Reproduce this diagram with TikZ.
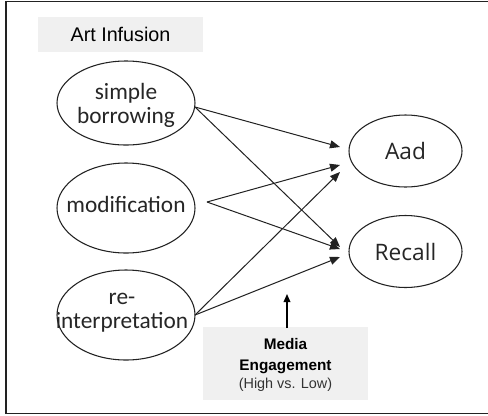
\documentclass[tikz,border=0pt]{standalone}
\usepackage{fontspec}
\setmainfont{Carlito}
\newfontfamily\arialf{Liberation Sans}
\newfontfamily\openf{Open Sans}
\usetikzlibrary{shapes.geometric,arrows.meta}
\definecolor{boxgrey}{HTML}{F0F0F0}
\definecolor{linec}{HTML}{222222}
\tikzset{
  oval/.style={ellipse, draw=linec, line width=0.8pt, minimum width=138*0.75pt, minimum height=90*0.75pt, inner sep=0pt},
  ovaltext/.style={align=center, inner sep=0pt, font=\fontsize{17.5}{19}\selectfont, text=black!85},
  dv/.style={ellipse, draw=linec, line width=0.8pt, minimum width=113*0.75pt, minimum height=72*0.75pt, inner sep=0pt},
  dvtext/.style={inner sep=0pt, font=\openf\fontsize{17}{19}\selectfont, text=black!85},
  conn/.style={draw=linec, line width=0.75pt, -{Triangle[length=7.5pt,width=6pt]}},
  greybox/.style={fill=boxgrey, draw=none, inner sep=0pt}
}
\begin{document}
\begin{tikzpicture}[x=0.75pt,y=-0.75pt]
\fill[white] (0,0) rectangle (488,415);
\useasboundingbox (0,0) rectangle (488,415);
% frame
\draw[line width=1.2pt, draw=linec, line cap=butt] (488,1.5) -- (6,1.5) -- (6,413.5) -- (488,413.5);
% Art Infusion box
\node[greybox, minimum width=165*0.75pt, minimum height=35*0.75pt] (artbox) at (120.5,34.5) {};
\node[font=\arialf\fontsize{14.8}{17}\selectfont] (arttext) at (120.5,34.5) {Art Infusion};
% ellipses
\node[oval, minimum height=84*0.75pt] (sb) at (126,103) {};
\node[ovaltext] (sbt) at (126,105) {simple\\[-1pt]borrowing};
\node[oval] (mod) at (126,208) {};
\node[ovaltext] (modt) at (126,204) {modification};
\node[oval] (re) at (126,315) {};
\node[ovaltext] (ret) at (122,313) {re-\\[-1pt]interpretation};
\node[dv] (aad) at (405.5,151) {};
\node[dvtext] (aadt) at (405.5,151) {Aad};
\node[dv] (rec) at (405.5,251.5) {};
\node[dvtext] (rect) at (405.5,251.5) {Recall};
% arrow ends
\coordinate (a1) at (340,147);
\coordinate (a2) at (340,165);
\coordinate (a3) at (340,172);
\coordinate (r1) at (340,247);
\coordinate (r2) at (340,249);
\coordinate (r3) at (340,257);
\coordinate (sbo) at (195,107);
\coordinate (modo) at (207,202);
\coordinate (reo) at (195,315);
\draw[conn] (sbo) -- (a1);
\draw[conn] (sbo) -- (r1);
\draw[conn] (modo) -- (a2);
\draw[conn] (modo) -- (r2);
\draw[conn] (reo) -- (a3);
\draw[conn] (reo) -- (r3);
% media engagement
\node[greybox, minimum width=165*0.75pt, minimum height=73*0.75pt] (media) at (285.5,363.5) {};
\node[font=\arialf\bfseries\fontsize{11.5}{15.5}\selectfont, align=center, anchor=north] (mtext) at (285.5,334) {Media\\Engagement};
\node[font=\arialf\fontsize{10.8}{13}\selectfont, text=black!80] (mhl) at (285.5,385) {(High vs. Low)};
\coordinate (mstart) at (287,328);
\coordinate (mend) at (287,294);
\draw[line width=1pt, draw=black, -{Triangle[length=6pt,width=5pt]}] (mstart) -- (mend);
\end{tikzpicture}
\end{document}
